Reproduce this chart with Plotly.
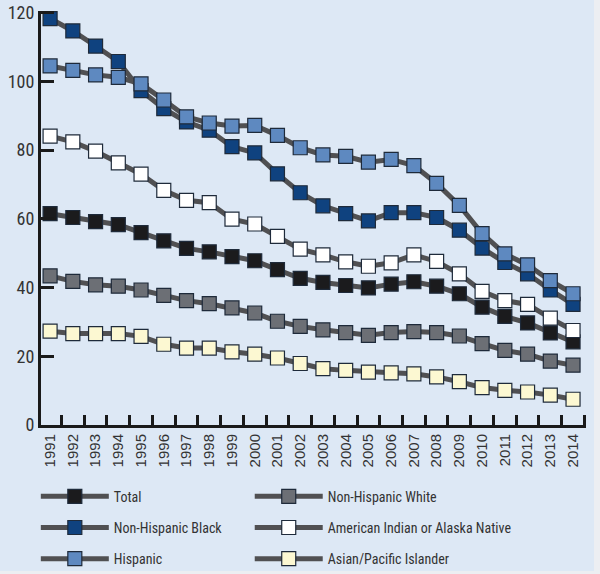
import plotly.graph_objects as go

years = [str(y) for y in range(1991, 2015)]

total = [61.5, 60.4, 59.2, 58.3, 56.0, 53.6, 51.4, 50.4, 49.0, 47.8, 45.2, 42.7,
         41.5, 40.6, 39.9, 41.0, 41.7, 40.4, 38.2, 34.3, 31.6, 29.7, 26.8, 24.2]
nh_white = [43.4, 41.8, 40.8, 40.4, 39.3, 37.7, 36.2, 35.3, 34.1, 32.6, 30.2, 28.7,
            27.7, 26.9, 26.1, 26.9, 27.2, 26.9, 25.9, 23.7, 21.7, 20.6, 18.6, 17.4]
nh_black = [118.3, 114.7, 110.3, 105.8, 97.3, 92.1, 88.2, 85.8, 81.0, 79.2, 73.1, 67.6,
            63.8, 61.5, 59.4, 61.8, 61.8, 60.4, 56.7, 51.5, 47.3, 44.0, 39.3, 35.1]
aian = [84.1, 82.4, 79.7, 76.3, 73.0, 68.3, 65.4, 64.7, 59.9, 58.5, 54.9, 51.2,
        49.5, 47.5, 46.2, 47.2, 49.5, 47.6, 44.0, 38.9, 36.2, 35.1, 31.1, 27.5]
hispanic = [104.5, 103.2, 101.9, 101.2, 99.3, 94.6, 89.7, 87.9, 87.0, 87.2, 84.3, 80.7,
            78.6, 78.2, 76.5, 77.3, 75.5, 70.3, 63.9, 55.7, 49.8, 46.6, 42.0, 38.2]
api = [27.3, 26.6, 26.6, 26.6, 25.8, 23.5, 22.4, 22.4, 21.3, 20.6, 19.5, 17.9,
       16.4, 15.9, 15.4, 15.2, 14.9, 14.0, 12.6, 10.9, 10.1, 9.6, 8.7, 7.5]

# (name, values, marker colour, legend column)
series = [
    ("Total", total, "#1b1b1d", "legend"),
    ("Non-Hispanic Black", nh_black, "#0f427f", "legend"),
    ("Hispanic", hispanic, "#5e89c0", "legend"),
    ("Non-Hispanic White", nh_white, "#6c6f75", "legend2"),
    ("American Indian or Alaska Native", aian, "#ffffff", "legend2"),
    ("Asian/Pacific Islander", api, "#fcf8d2", "legend2"),
]

BG = "#dde8f5"
NARROW = "Liberation Sans Narrow, Roboto Condensed, sans-serif"
REG = "Liberation Sans, Arial, sans-serif"

fig = go.Figure()
for i, (name, vals, color, leg) in enumerate(series):
    fig.add_trace(go.Scatter(
        x=years, y=vals, name=name, mode="lines+markers",
        legend=leg, legendgroup=name, legendrank=i,
        line=dict(color="#505052", width=5),
        marker=dict(symbol="square", size=14, color=color,
                    line=dict(color="#1e2a3a", width=1.2)),
    ))


def leg_col(xpos):
    return dict(
        orientation="v", x=xpos, xanchor="left", y=-0.1345, yanchor="top",
        itemwidth=68, tracegroupgap=10,
        font=dict(family=NARROW, size=14, color="#333333"),
        bgcolor="rgba(0,0,0,0)",
    )


fig.update_layout(
    width=600, height=574,
    paper_bgcolor="#eceef2", plot_bgcolor=BG,
    margin=dict(l=41, r=14, t=11, b=149, autoexpand=False),
    font=dict(family=NARROW, size=15, color="#333333"),
    showlegend=True,
    legend=leg_col(-0.0095),
    legend2=leg_col(0.383),
    # light blue panel behind the whole chart, a little inset from the right/bottom
    shapes=[dict(type="rect", xref="paper", yref="paper", layer="below",
                 x0=-0.0752, x1=1.0147, y0=-0.3527, y1=1.0266,
                 fillcolor=BG, line=dict(width=0))],
    xaxis=dict(
        type="category", range=[-0.4, 23.57],
        showline=True, linecolor="#1a1a1a", linewidth=3,
        ticks="inside", tickson="boundaries", ticklen=10, tickwidth=3,
        tickcolor="#1a1a1a", tickangle=-90, showgrid=False, zeroline=False,
        tickfont=dict(family=REG, size=15, color="#333333"),
    ),
    yaxis=dict(
        range=[0, 120.5], tickvals=[0, 20, 40, 60, 80, 100, 120],
        showline=True, linecolor="#1a1a1a", linewidth=3,
        ticks="inside", ticklen=13, tickwidth=3, tickcolor="#1a1a1a",
        showgrid=False, zeroline=False,
        tickfont=dict(family=NARROW, size=18, color="#333333"),
    ),
)

fig.write_html("out.html", config={"displayModeBar": False},
               post_script="document.body.style.margin='0';")
